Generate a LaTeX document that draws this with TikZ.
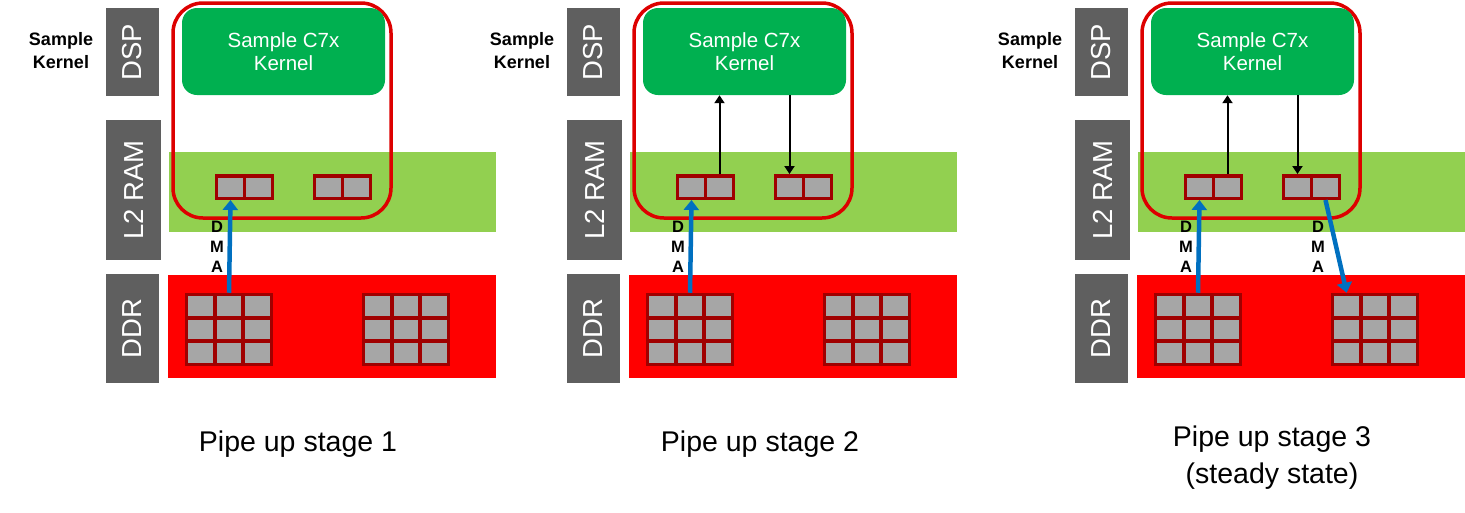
\documentclass[tikz,border=0pt]{standalone}
\usepackage{fontspec}
\setmainfont{Liberation Sans}
\usetikzlibrary{arrows.meta}
\definecolor{boxgray}{HTML}{5F5F5F}
\definecolor{lgreen}{HTML}{92D050}
\definecolor{ddrred}{HTML}{FF0000}
\definecolor{outred}{HTML}{DD0000}
\definecolor{kgreen}{HTML}{00B050}
\definecolor{cellgray}{HTML}{A6A6A6}
\definecolor{cellred}{HTML}{A00000}
\definecolor{dmablue}{HTML}{0070C0}
\newcommand{\fsz}[2]{\fontsize{#1}{#2}\selectfont}

\begin{document}
\begin{tikzpicture}[x=1pt,y=-1pt,
  lbl/.style={fill=boxgray,text=white,rotate=90,inner sep=0pt,font=\fsz{27.5}{32}},
  kern/.style={fill=kgreen,text=white,rounded corners=15pt,align=center,
    minimum width=203pt,minimum height=87pt,font=\fsz{20.5}{23}},
  cell/.style={draw=cellred,fill=cellgray,line width=3.5pt,inner sep=0pt},
  bufcell/.style={cell,minimum width=28pt,minimum height=22.5pt},
  gridcell/.style={cell,minimum width=28.33pt,minimum height=23.33pt},
  outline/.style={draw=outred,line width=3.5pt,rounded corners=30pt},
  dma/.style={draw=dmablue,line width=4.5pt,-{Triangle[width=15pt,length=10pt]}},
  data/.style={draw=black,line width=2pt,-{Triangle[width=10pt,length=8pt]}},
  dmalbl/.style={align=center,inner sep=0pt,font=\fsz{16.5}{20}\bfseries},
  ttl/.style={align=center,anchor=north,inner sep=0pt,font=\fsz{28.5}{37}}]
\useasboundingbox (0,0) rectangle (1465,512);

\foreach \p/\dx/\tx/\ty/\ttl in {1/0/298/431/{Pipe up stage 1},
    2/461/299/431/{Pipe up stage 2},
    3/969/303/426/{Pipe up stage 3\\(steady state)}}{
\begin{scope}[xshift=\dx]
% side labels
\node[align=center,font=\fsz{18}{23}\bfseries] (sk\p) at (61,51) {Sample\\Kernel};
\node[lbl,minimum width=88pt,minimum height=53pt] (dsp\p) at (132.5,52) {DSP};
\node[lbl,minimum width=140pt,minimum height=55pt] (l2\p) at (133.5,190) {L2 RAM};
\node[lbl,minimum width=109pt,minimum height=53pt] (ddr\p) at (132.5,328.5) {DDR};
% memory bands
\fill[lgreen] (169,152) rectangle (496,232);
\fill[ddrred] (168,275) rectangle (496,378);
\draw[outline] (173,3) rectangle (391,218);
\node[kern] (kern\p) at (283.5,51.5) {Sample C7x\\Kernel};
% L2 buffers
\node[bufcell] (la\p-1) at (230.5,187) {};
\node[bufcell] (la\p-2) at (258.5,187) {};
\node[bufcell] (lb\p-1) at (328.5,187) {};
\node[bufcell] (lb\p-2) at (356.5,187) {};
% DDR frames
\foreach \r in {1,2,3}{
  \foreach \c in {1,2,3}{
    \node[gridcell] (ga\p-\r-\c) at ({186.5+28.33*(\c-0.5)},{294.5+23.33*(\r-0.5)}) {};
    \node[gridcell] (gb\p-\r-\c) at ({363.5+28.33*(\c-0.5)},{294.5+23.33*(\r-0.5)}) {};
  }
}
\draw[dma] (ga\p-1-2.north) -- (la\p-1.south);
\node[dmalbl] (dl\p) at (217,247) {D\\M\\A};
\ifnum\p>1
  \draw[data] (la\p-2.north) -- (la\p-2.north |- kern\p.south);
  \draw[data] (lb\p-1.north |- kern\p.south) -- (lb\p-1.north);
\fi
\ifnum\p>2
  \draw[dma] (lb\p-2.south) -- (gb\p-1-1.north);
  \node[dmalbl] (dr\p) at (349,247) {D\\M\\A};
\fi
\node[ttl] (t\p) at (\tx,\ty) {\ttl};
\end{scope}
}
\end{tikzpicture}
\end{document}
